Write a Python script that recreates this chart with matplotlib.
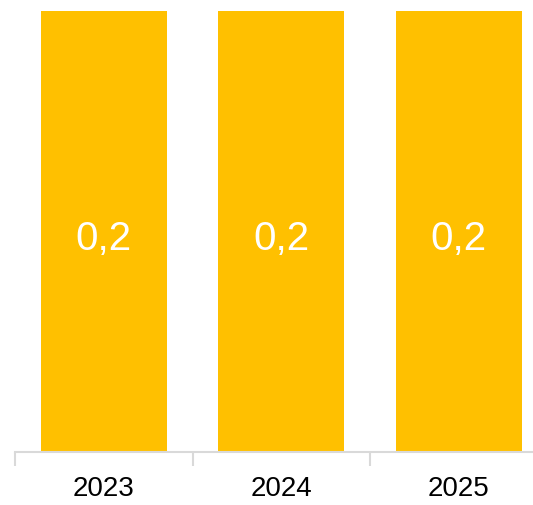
import matplotlib.pyplot as plt

years = ['2023', '2024', '2025']
values = [0.2, 0.2, 0.2]
labels = ['0,2', '0,2', '0,2']

plt.rcParams['font.family'] = ['Liberation Sans', 'DejaVu Sans']

fig = plt.figure(figsize=(5.33, 5.05), dpi=100)
ax = fig.add_axes([15 / 533, 53 / 505, 532.5 / 533, 441 / 505])

x = range(len(years))
bars = ax.bar(x, values, width=0.71, color='#FFC000')

for b, lab in zip(bars, labels):
    ax.text(b.get_x() + b.get_width() / 2, b.get_height() * 0.484, lab,
            ha='center', va='center', color='white', fontsize=29)

ax.set_xlim(-0.5, 2.5)
ax.set_ylim(0, 0.2)
ax.set_yticks([])
for s in ['top', 'right', 'left']:
    ax.spines[s].set_visible(False)
ax.spines['bottom'].set_color('#D9D9D9')
ax.spines['bottom'].set_linewidth(1.5)

ax.set_xticks([-0.5, 0.5, 1.5, 2.5])
ax.set_xticklabels([])
ax.set_xticks(list(x), minor=True)
ax.set_xticklabels(years, minor=True, fontsize=20)
ax.tick_params(axis='x', which='major', length=10, width=1.5, color='#D9D9D9')
ax.tick_params(axis='x', which='minor', length=0, pad=17)

fig.savefig('out.png', dpi=100)
